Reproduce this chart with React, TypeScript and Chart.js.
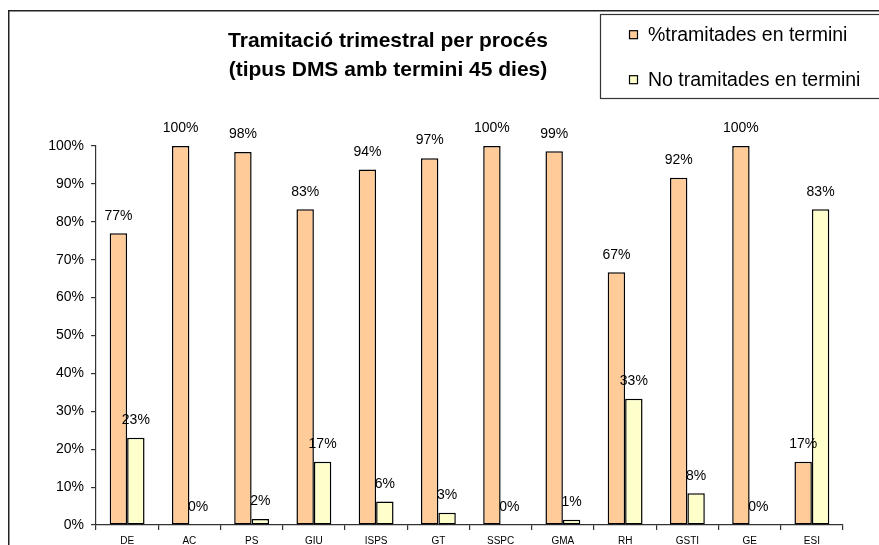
import React, { useEffect, useRef } from "react";
import Chart from "chart.js/auto";

const categories = ["DE", "AC", "PS", "GIU", "ISPS", "GT", "SSPC", "GMA", "RH", "GSTI", "GE", "ESI"];
const tramitades = [77, 100, 98.4, 83.3, 93.8, 96.8, 100, 98.6, 66.7, 91.6, 100, 16.7];
const noTramitades = [23, 0, 1.6, 16.7, 6.2, 3.2, 0, 1.4, 33.3, 8.4, 0, 83.3];
const seriesNames = ["%tramitades en termini", "No tramitades en termini"];
const seriesColors = ["#FFCC99", "#FFFFCC"];
const titleLines = ["Tramitació trimestral per procés", "(tipus DMS amb termini 45 dies)"];
const yMin = 0;
const yMax = 100;
const yStep = 10;

const FONT = "'Liberation Sans', Arial, Helvetica, sans-serif";

const chromePlugin = {
  id: "chrome",
  beforeDraw(chart: any) {
    const ctx = chart.ctx;
    ctx.save();
    ctx.fillStyle = "#ffffff";
    ctx.fillRect(0, 0, chart.width, chart.height);
    ctx.strokeStyle = "#222222";
    ctx.lineWidth = 1.5;
    ctx.beginPath();
    ctx.moveTo(0.75, chart.height + 5);
    ctx.lineTo(0.75, 0.75);
    ctx.lineTo(chart.width + 5, 0.75);
    ctx.stroke();
    ctx.restore();
  },
  afterDraw(chart: any) {
    const ctx = chart.ctx;
    ctx.save();
    // title
    ctx.fillStyle = "#000";
    ctx.font = `bold 21px ${FONT}`;
    ctx.textAlign = "center";
    ctx.textBaseline = "alphabetic";
    ctx.fillText(titleLines[0], 380, 36.5);
    ctx.fillText(titleLines[1], 380, 66);
    // legend box
    ctx.strokeStyle = "#333333";
    ctx.lineWidth = 1.2;
    ctx.strokeRect(592.5, 4.5, 400, 84);
    const ys = [24.7, 69.7];
    const bases = [30.7, 76];
    ctx.font = `19.5px ${FONT}`;
    ctx.textAlign = "left";
    for (let i = 0; i < 2; i++) {
      ctx.fillStyle = seriesColors[i];
      ctx.fillRect(621.5, ys[i] - 4, 8, 8);
      ctx.strokeStyle = "#000";
      ctx.lineWidth = 1.2;
      ctx.strokeRect(621.5, ys[i] - 4, 8, 8);
      ctx.fillStyle = "#000";
      ctx.fillText(seriesNames[i], 640, bases[i]);
    }
    ctx.restore();
  },
};

const valueLabelPlugin = {
  id: "valueLabels",
  afterDatasetsDraw(chart: any) {
    const ctx = chart.ctx;
    ctx.save();
    ctx.fillStyle = "#000";
    ctx.font = `14px ${FONT}`;
    ctx.textAlign = "center";
    ctx.textBaseline = "middle";
    chart.data.datasets.forEach((ds: any, di: number) => {
      const meta = chart.getDatasetMeta(di);
      meta.data.forEach((el: any, i: number) => {
        const v = ds.data[i];
        ctx.fillText(`${Math.round(v)}%`, el.x, el.y - 17.5);
      });
    });
    ctx.restore();
  },
};

export default function App() {
  const ref = useRef<HTMLCanvasElement | null>(null);
  useEffect(() => {
    document.body.style.margin = "0";
    const canvas = ref.current!;
    const chart = new Chart(canvas, {
      type: "bar",
      data: {
        labels: categories,
        datasets: [
          {
            label: seriesNames[0],
            data: tramitades,
            backgroundColor: seriesColors[0],
            borderColor: "#000",
            borderWidth: 1.5,
            borderSkipped: false,
            categoryPercentage: 0.56,
            barPercentage: 1,
          },
          {
            label: seriesNames[1],
            data: noTramitades,
            backgroundColor: seriesColors[1],
            borderColor: "#000",
            borderWidth: 1.5,
            borderSkipped: false,
            categoryPercentage: 0.56,
            barPercentage: 1,
          },
        ],
      },
      options: {
        responsive: false,
        animation: false,
        devicePixelRatio: 1,
        layout: { padding: { top: 136, right: 36, left: 0, bottom: 0 } },
        plugins: {
          legend: { display: false },
          title: { display: false },
          tooltip: { enabled: false },
        },
        scales: {
          x: {
            afterFit(scale: any) {
              scale.height = 20;
            },
            grid: {
              drawOnChartArea: false,
              drawTicks: true,
              tickLength: 5,
              color: "#333333",
              lineWidth: 1.2,
              offset: true,
            },
            border: { display: true, color: "#333333", width: 1.2 },
            ticks: {
              color: "#000",
              font: { family: FONT, size: 10 },
              autoSkip: false,
              maxRotation: 0,
              padding: 5,
            },
          },
          y: {
            min: yMin,
            max: yMax,
            afterFit(scale: any) {
              scale.width = 88;
            },
            grid: {
              drawOnChartArea: false,
              drawTicks: true,
              tickLength: 5,
              color: "#333333",
              lineWidth: 1.2,
            },
            border: { display: true, color: "#333333", width: 1.2 },
            ticks: {
              stepSize: yStep,
              color: "#000",
              font: { family: FONT, size: 14 },
              padding: 7,
              callback: (v: any) => `${v}%`,
            },
          },
        },
      },
      plugins: [chromePlugin, valueLabelPlugin],
    } as any);
    return () => chart.destroy();
  }, []);
  return (
    <div style={{ position: "relative", width: 879, height: 545, overflow: "hidden" }}>
      <canvas
        ref={ref}
        width={871}
        height={535}
        style={{ position: "absolute", left: 8, top: 10, width: 871, height: 535 }}
      />
    </div>
  );
}
